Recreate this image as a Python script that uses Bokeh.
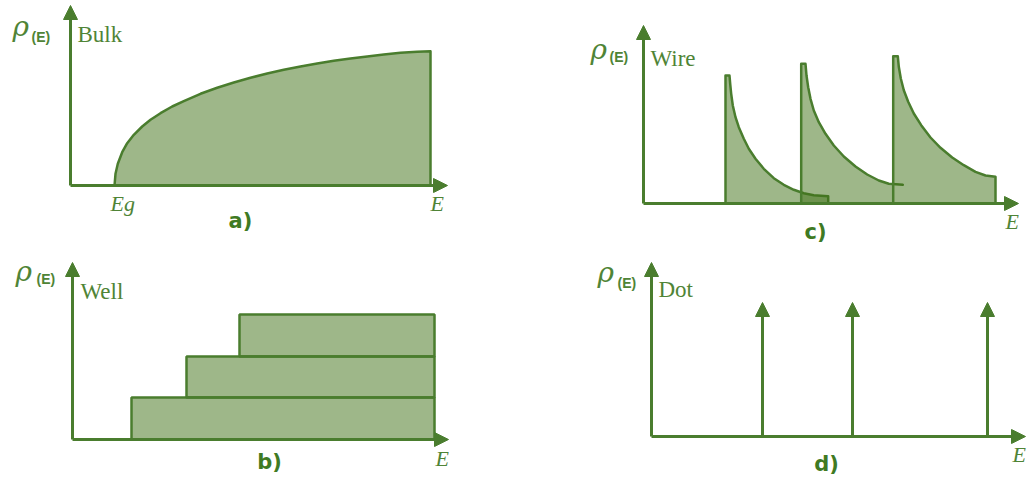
from bokeh.plotting import figure
from bokeh.layouts import gridplot
from bokeh.models import Range1d, Arrow, NormalHead, Label
from bokeh.embed import file_html
from bokeh.resources import INLINE

LINE = "#4a7d2e"
TEXT = "#4f8436"
FILL = "#3e7014"

# ---- a) bulk (3D): continuous DOS above the gap energy ----
bulk_E = [44, 45, 47.3, 51.7, 56.7, 63.3, 71.7, 80, 90, 101.7, 113.3, 130, 146.7, 163.3,
          180, 196.7, 213.3, 230, 246.7, 263.3, 280, 296.7, 313.3, 330, 346.7, 360]
bulk_rho = [0, 11.7, 21.7, 33.3, 42.3, 50.7, 59, 65.7, 72.3, 79, 84.3, 91.7, 97.7, 103,
            107.7, 112, 115.7, 119, 122, 124.7, 127, 129, 131, 132.7, 133.7, 134.3]

# ---- b) quantum well (2D): staircase of sub-bands ----
well_start = [59, 114, 167]
well_end = [362, 362, 362]
well_low = [0, 42, 83]
well_high = [42, 83, 125]

# ---- c) quantum wire (1D): 1/sqrt singularities per sub-band ----
wire_onset = [82, 157.7, 249.7]
wire_E = [
    [82, 86, 86.7, 87.7, 89.3, 92, 95.3, 100.3, 105.3, 112, 120.3, 130.3, 140.3, 150.3,
     160.3, 170.3, 184.7],
    [157.7, 162, 163, 164.7, 167, 170.3, 175.3, 182, 190.3, 200.3, 212, 223.7, 235.3,
     245.3, 259.3],
    [249.7, 254.3, 255.3, 257.3, 260.3, 264.7, 270.3, 277.7, 287, 297, 308.7, 320.3, 332,
     342, 352],
]
wire_rho = [
    [128, 128, 119.7, 109.7, 98, 86.3, 76.3, 64.7, 54.7, 44.7, 34.7, 25.3, 18.7, 13.7,
     10.3, 8.3, 7.3],
    [139.7, 139.7, 128, 116.3, 104.7, 93, 81.3, 69.7, 58, 47, 37, 29, 23, 19.7, 18.7],
    [147.3, 147.3, 136.7, 125, 113.3, 101.7, 90, 78.3, 66, 55.7, 46, 38.3, 31.7, 28, 26.7],
]
wire_closed = [True, False, True]
wire_fill_end = [184.7, 249.7, 352]

# ---- d) quantum dot (0D): discrete delta levels ----
dot_E = [111, 201, 336]
dot_rho = [134, 134, 134]


def make_fig(w, h, xr, yr):
    p = figure(width=w, height=h, x_range=Range1d(*xr), y_range=Range1d(*yr),
               output_backend="svg", toolbar_location=None, min_border=0)
    p.axis.visible = False
    p.grid.visible = False
    p.outline_line_color = None
    p.background_fill_color = "white"
    p.border_fill_color = "white"
    return p


def axes(p, x_tip, y_tip):
    for xe, ye in [(0, y_tip), (x_tip, 0)]:
        p.add_layout(Arrow(end=NormalHead(size=14, fill_color=LINE, line_color=LINE, line_width=1),
                           x_start=0, y_start=0, x_end=xe, y_end=ye,
                           line_color=LINE, line_width=3))


def label(p, x, y, txt, font, size, style="normal", align="left", color=TEXT):
    # raise by a fraction of the font size so that y is the text's baseline
    p.add_layout(Label(x=x, y=y + 0.4 * size, text=txt, text_font=font,
                       text_font_size=f"{size}px", text_font_style=style,
                       text_color=color, text_align=align, text_baseline="alphabetic"))


def rho_title(p, x, y, sub_dx, sub_dy, name_x, name_y, name):
    label(p, x, y, "ρ", "DejaVu Serif", 28, "italic")
    label(p, x + sub_dx, y + sub_dy, "(E)", "Liberation Sans", 14, "bold")
    label(p, name_x, name_y, name, "Liberation Serif", 23)


def smooth_line(p, xs, ys):
    p.line(xs, ys, line_color=LINE, line_width=2.5, line_join="round", line_cap="round")


# a) Bulk
pa = make_fig(515, 250, (-70, 445), (-65, 185))
pa.patch(bulk_E + [bulk_E[-1]], bulk_rho + [0], fill_color=FILL, fill_alpha=0.5, line_alpha=0)
smooth_line(pa, bulk_E + [bulk_E[-1]], bulk_rho + [0])
axes(pa, 377, 180)
rho_title(pa, -58, 148, 19, -5, 7, 142, "Bulk")
label(pa, 40, -27, "Eg", "Liberation Serif", 22, "italic")
label(pa, 360, -27, "E", "Liberation Serif", 22, "italic")
label(pa, 170, -44, "a)", "DejaVu Sans", 21, "bold", "center", "#3f7a23")

# c) Wire
pc = make_fig(515, 250, (-128, 387), (-47, 203))
for e0, es, rs, closed, fe in zip(wire_onset, wire_E, wire_rho, wire_closed, wire_fill_end):
    fx = [e0] + [e for e in es if e <= fe]
    fy = [0] + [r for e, r in zip(es, rs) if e <= fe]
    if fx[-1] < fe:
        # the fill runs flat up to where the next sub-band takes over
        fx.append(fe)
        fy.append(fy[-1])
    pc.patch(fx + [fx[-1]], fy + [0], fill_color=FILL, fill_alpha=0.5, line_alpha=0)
    xs = [e0] + es + ([es[-1]] if closed else [])
    ys = [0] + rs + ([0] if closed else [])
    smooth_line(pc, xs, ys)
axes(pc, 375, 178)
rho_title(pc, -53, 143, 19, -2, 7, 136, "Wire")
label(pc, 362, -27, "E", "Liberation Serif", 22, "italic")
label(pc, 172, -37, "c)", "DejaVu Sans", 21, "bold", "center", "#3f7a23")

# b) Well
pb = make_fig(515, 229, (-72, 443), (-40, 189))
pb.quad(left=well_start, right=well_end, bottom=well_low, top=well_high,
        fill_color=FILL, fill_alpha=0.5, line_color=LINE, line_width=2.5)
axes(pb, 376, 177)
rho_title(pb, -57, 157, 21, -2, 8, 139, "Well")
label(pb, 363, -28, "E", "Liberation Serif", 22, "italic")
label(pb, 197, -31, "b)", "DejaVu Sans", 21, "bold", "center", "#3f7a23")

# d) Dot
pd = make_fig(515, 229, (-136, 379), (-43, 186))
for e, r in zip(dot_E, dot_rho):
    pd.add_layout(Arrow(end=NormalHead(size=14, fill_color=LINE, line_color=LINE, line_width=1),
                        x_start=e, y_start=0, x_end=e, y_end=r,
                        line_color=LINE, line_width=3))
axes(pd, 374, 174)
rho_title(pd, -54, 153, 20, -5, 7, 138, "Dot")
label(pd, 361, -27, "E", "Liberation Serif", 22, "italic")
label(pd, 175, -36, "d)", "DejaVu Sans", 21, "bold", "center", "#3f7a23")

grid = gridplot([[pa, pc], [pb, pd]], toolbar_location=None)
open("out.html", "w").write(file_html(grid, INLINE))
